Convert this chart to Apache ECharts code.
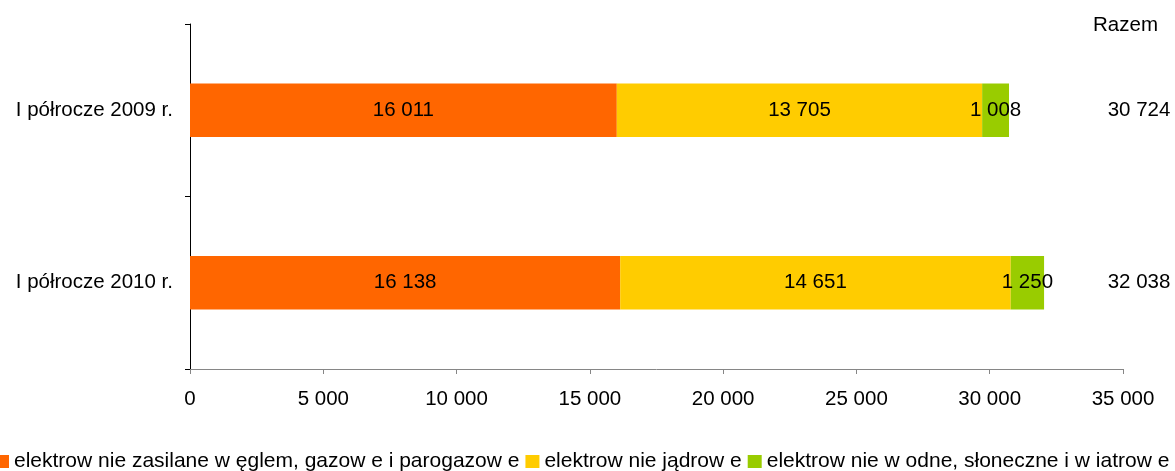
<!DOCTYPE html>
<html><head><meta charset="utf-8">
<script src="https://cdn.jsdelivr.net/npm/echarts@6/dist/echarts.min.js"></script>
<style>html,body{margin:0;padding:0;background:#fff}#c{width:1175px;height:471px}</style>
</head><body><div id="c"></div>
<script>
var categories = ['I półrocze 2009 r.', 'I półrocze 2010 r.'];
var seriesNames = ['elektrow nie zasilane w ęglem, gazow e i parogazow e', 'elektrow nie jądrow e', 'elektrow nie w odne, słoneczne i w iatrow e'];
var coal = [16011, 16138];
var nuclear = [13705, 14651];
var renew = [1008, 1250];
var totals = [30724, 32038];
var xTicks = [0, 5000, 10000, 15000, 20000, 25000, 30000, 35000];
var colors = ['#FF6600', '#FFCC00', '#99CC00'];

function fmt(v){ return String(v).replace(/\B(?=(\d{3})+(?!\d))/g, ' '); }
var FONT = 'Liberation Sans, Arial, sans-serif';
var FS = 20.5;

var chart = echarts.init(document.getElementById('c'), null, {renderer:'canvas'});
function mk(name, data, i){
  return {name:name, type:'bar', stack:'s', data:data, barWidth:'31%',
    itemStyle:{color:colors[i]},
    label:{show:true, position:'inside', color:'#000', fontFamily:FONT, fontSize:FS, formatter:function(p){return fmt(p.value);}}
  };
}
chart.setOption({
  animation:false,
  textStyle:{fontFamily:FONT},
  title:{text:'Razem', right:12, top:10, textStyle:{fontWeight:'normal', fontSize:FS, color:'#000', fontFamily:FONT}},
  grid:{left:190, right:52, top:24, bottom:102, containLabel:false},
  legend:{left:-5, top:451, padding:0, itemWidth:14, itemHeight:13, itemGap:6, icon:'rect',
    textStyle:{fontSize:21, color:'#000', fontFamily:FONT}, data:seriesNames},
  xAxis:{type:'value', min:xTicks[0], max:xTicks[xTicks.length-1], interval:5000,
    axisLine:{show:true, lineStyle:{color:'#868686', width:1}},
    axisTick:{show:true, length:5, lineStyle:{color:'#868686'}},
    splitLine:{show:false},
    axisLabel:{color:'#000', fontSize:FS, fontFamily:FONT, margin:20, formatter:function(v){return fmt(v);}}},
  yAxis:[{type:'category', data:categories, inverse:true,
    axisLine:{show:true, lineStyle:{color:'#000', width:1}},
    axisTick:{show:true, length:5, lineStyle:{color:'#000'}},
    axisLabel:{color:'#000', fontSize:FS, fontFamily:FONT, margin:17}},
   {type:'category', data:categories, inverse:true, position:'right',
    axisLine:{show:false}, axisTick:{show:false},
    axisLabel:{color:'#000', fontSize:FS, fontFamily:FONT, margin:16, align:'center',
      formatter:function(v, i){return fmt(totals[i]);}}}],
  series:[mk(seriesNames[0], coal, 0), mk(seriesNames[1], nuclear, 1), mk(seriesNames[2], renew, 2)]
});
</script></body></html>
